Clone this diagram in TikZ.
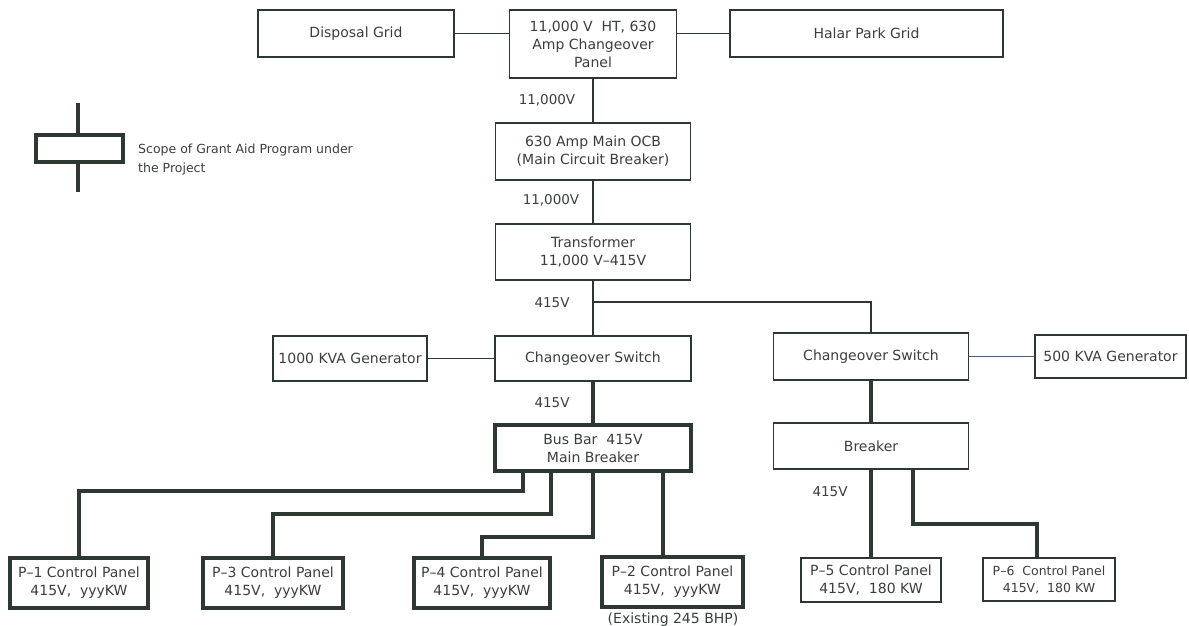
\documentclass[tikz,border=0pt]{standalone}
\usepackage{fontspec}
\setmainfont{DejaVu Sans}
\definecolor{ln}{HTML}{2E3833}
\definecolor{tx}{HTML}{3A3F3C}
\definecolor{bl}{HTML}{4A5E78}
\tikzset{
  box/.style={draw=ln, line width=1.3pt, fill=white, inner sep=0pt, align=center, text=tx, font=\fontsize{14}{18}\selectfont},
  boldbox/.style={box, line width=3.5pt},
  wire/.style={draw=ln, line width=1.3pt},
  buswire/.style={draw=ln, line width=3.5pt},
  lab/.style={text=tx, inner sep=0pt, font=\fontsize{13.5}{16}\selectfont},
}
\begin{document}
\begin{tikzpicture}[x=1pt,y=-1pt]
\useasboundingbox[fill=white] (0,0) rectangle (1189,626);

% legend
\coordinate (lt) at (78,103);
\coordinate (lb) at (78,192);
\draw[buswire] (lt) -- (lb);
\node[boldbox, minimum width=87pt, minimum height=27pt] (lbox) at (79.5,148.5) {};
\node[lab, font=\fontsize{12.5}{19}\selectfont, anchor=west, align=left] (ltext) at (138,159.5) {Scope of Grant Aid Program under\\the Project};

% top
\node[box, minimum width=196pt, minimum height=47pt] (disp) at (356,33.5) {Disposal Grid};
\node[box, minimum width=167pt, minimum height=68pt] (panel) at (593,44) {11,000 V\ \ HT, 630\\Amp Changeover\\Panel};
\node[box, minimum width=273pt, minimum height=47pt] (halar) at (866.5,33.5) {Halar Park Grid};
\node[box, minimum width=195pt, minimum height=57pt] (ocb) at (593,151.5) {630 Amp Main OCB\\(Main Circuit Breaker)};
\node[box, minimum width=195pt, minimum height=56pt] (trans) at (593,252) {Transformer\\11,000 V–415V};

% middle
\node[box, minimum width=196pt, minimum height=45pt] (csL) at (593,358.5) {Changeover Switch};
\node[box, minimum width=154pt, minimum height=45pt] (g1) at (350,358.5) {1000 KVA Generator};
\node[boldbox, minimum width=196pt, minimum height=46pt] (bus) at (593,448) {Bus Bar\ \ 415V\\Main Breaker};
\node[box, minimum width=195pt, minimum height=47pt] (csR) at (871,356.5) {Changeover Switch};
\node[box, minimum width=151pt, minimum height=43pt] (g5) at (1110.5,356.5) {500 KVA Generator};
\node[box, minimum width=195pt, minimum height=46pt] (brk) at (871,446) {Breaker};

% panels
\node[boldbox, minimum width=138pt, minimum height=50pt] (p1) at (79,583) {P–1 Control Panel\\415V,\ \ yyyKW};
\node[boldbox, minimum width=140pt, minimum height=50pt] (p3) at (273,583) {P–3 Control Panel\\415V,\ \ yyyKW};
\node[boldbox, minimum width=136pt, minimum height=50pt] (p4) at (482,583) {P–4 Control Panel\\415V,\ \ yyyKW};
\node[boldbox, minimum width=141pt, minimum height=50pt] (p2) at (672.5,582) {P–2 Control Panel\\415V,\ \ yyyKW};
\node[lab, font=\fontsize{14}{16}\selectfont] (exist) at (673,620) {(Existing 245 BHP)};
\node[box, minimum width=140pt, minimum height=44pt] (p5) at (871,580) {P–5 Control Panel\\415V,\ \ 180 KW};
\node[box, minimum width=132pt, minimum height=43pt, font=\fontsize{12.5}{17}\selectfont] (p6) at (1049,579.5) {P–6\ \ Control Panel\\415V,\ \ 180 KW};

% voltage labels
\node[lab] (v1) at (547,100) {11,000V};
\node[lab] (v2) at (551,200) {11,000V};
\node[lab] (v3) at (552,303) {415V};
\node[lab] (v4) at (552,403) {415V};
\node[lab] (v5) at (830,492) {415V};

% thin connectors
\draw[wire] (disp.east) -- (disp.east -| panel.west);
\draw[wire] (halar.west) -- (halar.west -| panel.east);
\draw[wire] (panel.south) -- (ocb.north);
\draw[wire] (ocb.south) -- (trans.north);
\draw[wire] (trans.south) -- (csL.north);
\coordinate (j) at (593,302);
\draw[wire] (j) -| (csR.north);
\draw[wire] (g1.east) -- (g1.east -| csL.west);
\draw[wire, draw=bl] (csR.east) -- (csR.east -| g5.west);

% thick connectors
\draw[buswire] (csL.south) -- (bus.north);
\draw[buswire] (csR.south) -- (brk.north);
\coordinate (b1) at (523,491);
\draw[buswire] (b1 |- bus.south) -- (b1) -| (p1.north);
\coordinate (b3) at (551,514);
\draw[buswire] (b3 |- bus.south) -- (b3) -| (p3.north);
\coordinate (b4) at (593,537);
\draw[buswire] (b4 |- bus.south) -- (b4) -| (p4.north);
\coordinate (b2) at (663,520);
\draw[buswire] (b2 |- bus.south) -- (b2 |- p2.north);
\draw[buswire] (brk.south) -- (p5.north);
\coordinate (b6) at (913,524);
\coordinate (b6r) at (1037,524);
\draw[buswire] (b6 |- brk.south) -- (b6) -- (b6r) -- (b6r |- p6.north);
\end{tikzpicture}
\end{document}
